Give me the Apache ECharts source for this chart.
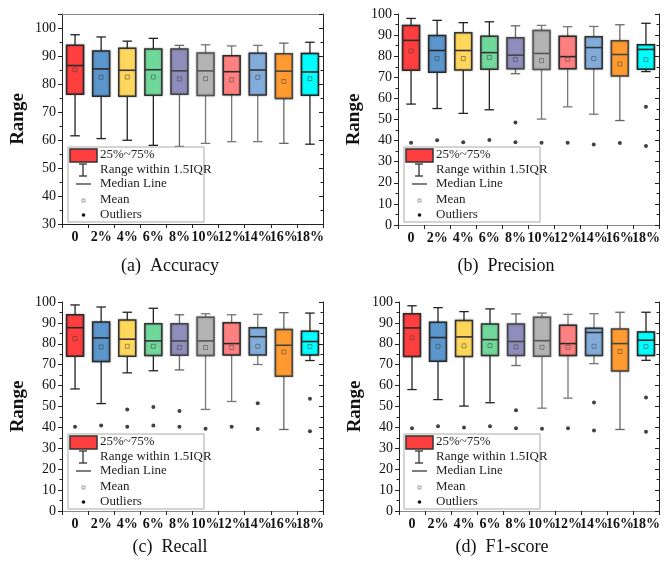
<!DOCTYPE html>
<html>
<head>
<meta charset="utf-8">
<script src="https://cdn.jsdelivr.net/npm/echarts@6/dist/echarts.min.js"></script>
<style>
html, body { margin: 0; padding: 0; background: #fff; }
#chart { width: 667px; height: 563px; }
</style>
</head>
<body>
<div id="chart"></div>
<script>
'use strict';

var categories = ['0', '2%', '4%', '6%', '8%', '10%', '12%', '14%', '16%', '18%'];

// [min, Q1, median, Q3, max] per category
var accuracyBoxes = [
    [61.5, 76.3, 86.6, 93.8, 97.6], [60.5, 75.6, 85.4, 91.8, 96.8], [59.9, 75.6, 84.9, 92.8, 95.3],
    [58.1, 76.0, 85.1, 92.5, 96.3], [57.7, 76.3, 84.7, 92.5, 93.8], [58.8, 75.9, 84.7, 91.1, 94.0],
    [59.4, 76.2, 84.4, 90.1, 93.6], [59.4, 76.1, 85.0, 91.0, 93.8], [58.8, 74.8, 84.6, 90.8, 94.6],
    [58.5, 76.0, 84.3, 90.9, 94.9]
];
var accuracyMeans = [85.1, 82.4, 82.5, 82.5, 81.8, 81.9, 81.5, 82.4, 80.9, 81.9];
var accuracyOutliers = [];

var precisionBoxes = [
    [57.3, 73.3, 87.5, 94.6, 97.9], [55.2, 72.4, 82.7, 89.8, 97.0], [52.9, 73.5, 82.7, 91.1, 95.9],
    [54.6, 73.8, 81.7, 89.4, 96.3], [71.7, 74.1, 80.5, 88.7, 94.4], [50.2, 73.7, 81.3, 92.2, 94.6],
    [56.0, 74.0, 79.8, 89.4, 94.0], [52.5, 74.0, 84.1, 89.2, 94.1], [49.5, 70.6, 80.8, 87.3, 94.9],
    [72.7, 73.8, 83.2, 85.4, 95.6]
];
var precisionMeans = [82.5, 78.9, 78.9, 79.4, 78.4, 77.9, 78.6, 78.9, 76.3, 78.4];
var precisionOutliers = [[0, 39.0], [1, 40.2], [2, 39.2], [3, 40.3], [4, 48.6], [4, 39.2], [5, 39.0],
    [6, 39.0], [7, 38.1], [8, 38.9], [9, 56.0], [9, 37.5]];

var recallBoxes = [
    [58.4, 74.0, 87.7, 93.9, 98.6], [51.4, 71.5, 82.8, 90.4, 97.6], [66.1, 74.0, 82.2, 91.4, 95.1],
    [67.1, 74.4, 81.4, 89.6, 97.0], [67.5, 74.5, 81.4, 89.6, 93.9], [48.6, 74.4, 81.4, 92.7, 94.4],
    [52.4, 74.7, 80.1, 90.1, 93.9], [70.1, 74.7, 83.4, 87.7, 94.1], [39.0, 64.5, 79.3, 86.9, 94.9],
    [72.0, 74.7, 81.1, 86.0, 94.7]
];
var recallMeans = [82.5, 78.5, 78.8, 78.8, 78.2, 78.2, 78.2, 78.8, 76.1, 78.7];
var recallOutliers = [[0, 40.3], [1, 40.9], [2, 48.6], [2, 40.3], [3, 49.8], [3, 40.9], [4, 47.9], [4, 40.3],
    [5, 39.3], [6, 40.3], [7, 51.6], [7, 39.2], [9, 53.7], [9, 38.2]];

var f1Boxes = [
    [58.1, 73.9, 87.6, 94.4, 98.2], [53.3, 71.7, 83.0, 90.3, 97.3], [50.2, 73.9, 83.3, 91.2, 95.4],
    [51.8, 74.4, 82.0, 89.5, 96.7], [69.6, 74.4, 81.1, 89.5, 94.3], [49.2, 74.0, 81.5, 92.7, 94.7],
    [54.0, 74.4, 80.1, 88.9, 94.1], [70.5, 74.4, 85.4, 87.4, 94.4], [39.0, 67.0, 80.1, 87.1, 95.1],
    [72.1, 74.4, 81.7, 85.7, 95.1]
];
var f1Means = [82.8, 78.8, 79.0, 79.1, 78.5, 78.3, 78.3, 78.8, 76.3, 78.7];
var f1Outliers = [[0, 39.6], [1, 40.6], [2, 40.0], [3, 40.6], [4, 48.2], [4, 39.6], [5, 39.3], [6, 39.6],
    [7, 51.9], [7, 38.5], [9, 54.3], [9, 37.9]];

var captions = ['(a)  Accuracy', '(b)  Precision', '(c)  Recall', '(d)  F1-score'];

var fillColors = ['#ff3f3f', '#5b96cc', '#ffd75c', '#70d89b', '#8f8dbb', '#b4b4b4', '#ff8080', '#82addb', '#ff9b30', '#00ffff'];
var borderColors = ['#2a2a2a', '#2a2a2a', '#333', '#333', '#444', '#555', '#2a2a2a', '#333', '#444', '#222'];
var whiskerColors = ['#222', '#222', '#222', '#222', '#666', '#777', '#777', '#777', '#666', '#222'];

var SERIF = '"Liberation Serif", "Times New Roman", serif';

var panels = [
    { boxes: accuracyBoxes, means: accuracyMeans, outliers: accuracyOutliers, min: 30, max: 105,
      grid: { left: 62, top: 14, width: 261, height: 210 }, legend: [68, 147], caption: [170, 266] },
    { boxes: precisionBoxes, means: precisionMeans, outliers: precisionOutliers, min: 0, max: 100,
      grid: { left: 398, top: 14, width: 261, height: 211 }, legend: [404, 147], caption: [506, 266] },
    { boxes: recallBoxes, means: recallMeans, outliers: recallOutliers, min: 0, max: 100,
      grid: { left: 62, top: 302, width: 261, height: 209 }, legend: [68, 434], caption: [170, 547] },
    { boxes: f1Boxes, means: f1Means, outliers: f1Outliers, min: 0, max: 100,
      grid: { left: 399, top: 302, width: 260, height: 209 }, legend: [404, 434], caption: [502, 547] }
];

// 箱体 + 须线
function renderBox(params, api) {
    var x = api.value(0);
    var lo = api.coord([x, api.value(1)]);
    var q1 = api.coord([x, api.value(2)]);
    var md = api.coord([x, api.value(3)]);
    var q3 = api.coord([x, api.value(4)]);
    var hi = api.coord([x, api.value(5)]);
    var bw = api.size([1, 0])[0] * 0.65;
    var cap = bw * 0.28;
    var cx = md[0];
    var wc = whiskerColors[x];
    var ws = { stroke: wc, lineWidth: 1.3 };
    return {
        type: 'group',
        children: [
            { type: 'line', shape: { x1: cx, y1: hi[1], x2: cx, y2: q3[1] }, style: ws },
            { type: 'line', shape: { x1: cx, y1: q1[1], x2: cx, y2: lo[1] }, style: ws },
            { type: 'line', shape: { x1: cx - cap, y1: hi[1], x2: cx + cap, y2: hi[1] }, style: ws },
            { type: 'line', shape: { x1: cx - cap, y1: lo[1], x2: cx + cap, y2: lo[1] }, style: ws },
            { type: 'rect', shape: { x: cx - bw / 2, y: q3[1], width: bw, height: q1[1] - q3[1] },
              style: { fill: fillColors[x], stroke: borderColors[x], lineWidth: 1.5,
                       shadowBlur: 2, shadowColor: 'rgba(0,0,0,0.35)' } },
            { type: 'line', shape: { x1: cx - bw / 2, y1: md[1], x2: cx + bw / 2, y2: md[1] },
              style: { stroke: borderColors[x], lineWidth: 1.6 } }
        ]
    };
}

// 图例
function legendGraphic(x, y) {
    var txt = function(ty, s) {
        return { type: 'text', x: x + 32, y: y + ty, z: 101,
                 style: { text: s, fill: '#222', font: '13px ' + SERIF, verticalAlign: 'middle' } };
    };
    var ln = function(x1, y1, x2, y2, c, w) {
        return { type: 'line', z: 101, shape: { x1: x1, y1: y1, x2: x2, y2: y2 }, style: { stroke: c, lineWidth: w } };
    };
    return [
        { type: 'rect', z: 100, shape: { x: x, y: y, width: 136, height: 75 },
          style: { fill: '#fff', stroke: '#aaa', lineWidth: 1 } },
        { type: 'rect', z: 101, shape: { x: x + 2, y: y + 2, width: 27, height: 13 },
          style: { fill: fillColors[0], stroke: '#333', lineWidth: 1.5 } },
        txt(8, '25%~75%'),
        ln(x + 15, y + 17, x + 15, y + 29, '#222', 1.2),
        ln(x + 11, y + 17, x + 19, y + 17, '#222', 1.2),
        ln(x + 11, y + 29, x + 19, y + 29, '#222', 1.2),
        txt(23, 'Range within 1.5IQR'),
        ln(x + 8, y + 37, x + 23, y + 37, '#555', 1.5),
        txt(37, 'Median Line'),
        { type: 'rect', z: 101, shape: { x: x + 14, y: y + 52, width: 3, height: 3 },
          style: { fill: 'none', stroke: '#888', lineWidth: 0.8 } },
        txt(53, 'Mean'),
        { type: 'circle', z: 101, shape: { cx: x + 15.5, cy: y + 68, r: 1.8 }, style: { fill: '#111' } },
        txt(68, 'Outliers')
    ];
}

var grids = [], xAxes = [], yAxes = [], series = [], graphics = [];

panels.forEach(function(p, i) {
    grids.push(p.grid);
    xAxes.push({
        type: 'category', gridIndex: i, data: categories, position: 'bottom',
        axisLine: { lineStyle: { color: '#222', width: 1 } },
        axisTick: { show: true, inside: false, length: 4, alignWithLabel: false, lineStyle: { color: '#222' } },
        axisLabel: { interval: 0, margin: 6, color: '#111', fontFamily: SERIF, fontWeight: 'bold', fontSize: 14 },
        splitLine: { show: false }
    });
    xAxes.push({
        type: 'category', gridIndex: i, data: categories, position: 'top',
        axisLine: { lineStyle: { color: '#888', width: 1 } },
        axisTick: { show: false }, axisLabel: { show: false }, splitLine: { show: false }
    });
    yAxes.push({
        type: 'value', gridIndex: i, min: p.min, max: p.max, interval: 10, position: 'left',
        name: 'Range', nameLocation: 'middle', nameGap: 34, nameRotate: 90,
        nameTextStyle: { fontFamily: SERIF, fontWeight: 'bold', fontSize: 19, color: '#111' },
        axisLine: { show: true, lineStyle: { color: '#222', width: 1 } },
        axisTick: { show: true, inside: false, length: 4, lineStyle: { color: '#222' } },
        minorTick: { show: true, splitNumber: 2, length: 2.5, lineStyle: { color: '#222' } },
        axisLabel: { margin: 6, color: '#111', fontFamily: SERIF, fontSize: 14, showMaxLabel: p.max === 100 },
        splitLine: { show: false }
    });
    yAxes.push({
        type: 'value', gridIndex: i, min: p.min, max: p.max, interval: 10, position: 'right',
        axisLine: { show: true, lineStyle: { color: '#222', width: 1 } },
        axisTick: { show: true, inside: true, length: 4, lineStyle: { color: '#222' } },
        minorTick: { show: true, splitNumber: 2, length: 2.5, lineStyle: { color: '#222' } },
        axisLabel: { show: false }, splitLine: { show: false }
    });

    series.push({
        type: 'custom', xAxisIndex: i * 2, yAxisIndex: i * 2, z: 2,
        renderItem: renderBox,
        encode: { x: 0, y: [1, 2, 3, 4, 5] },
        data: p.boxes.map(function(b, k) { return [k].concat(b); })
    });
    series.push({
        type: 'scatter', xAxisIndex: i * 2, yAxisIndex: i * 2, z: 3,
        symbol: 'rect', symbolSize: 4,
        itemStyle: { color: 'rgba(255,255,255,0)', borderColor: 'rgba(60,60,60,0.7)', borderWidth: 0.9 },
        data: p.means.map(function(m, k) { return [k, m]; })
    });
    series.push({
        type: 'scatter', xAxisIndex: i * 2, yAxisIndex: i * 2, z: 3,
        symbol: 'circle', symbolSize: 4, itemStyle: { color: '#111' },
        data: p.outliers
    });

    graphics = graphics.concat(legendGraphic(p.legend[0], p.legend[1]));
    graphics.push({
        type: 'text', x: p.caption[0], y: p.caption[1], z: 100,
        style: { text: captions[i], fill: '#111', font: '18px ' + SERIF, align: 'center', verticalAlign: 'middle' }
    });
});

var chart = echarts.init(document.getElementById('chart'), null, { renderer: 'canvas' });
chart.setOption({
    animation: false,
    backgroundColor: '#fff',
    grid: grids,
    xAxis: xAxes,
    yAxis: yAxes,
    series: series,
    graphic: graphics
});
</script>
</body>
</html>
